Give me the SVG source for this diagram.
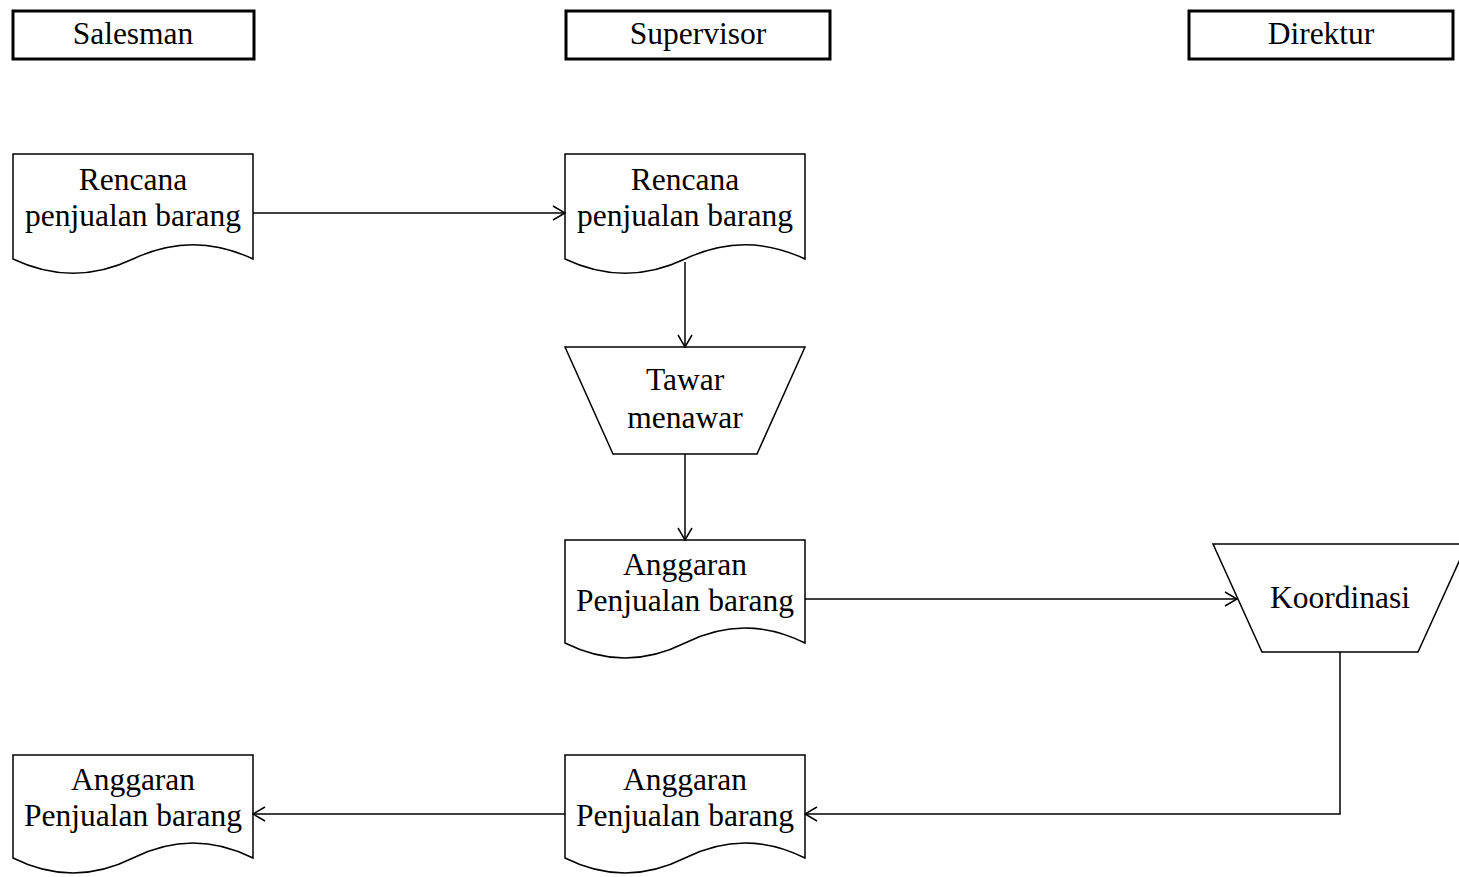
<svg xmlns="http://www.w3.org/2000/svg" width="1459" height="877" viewBox="0 0 1459 877">
<style>
.hdr{fill:#fff;stroke:#000;stroke-width:3}
.shp{fill:#fff;stroke:#000;stroke-width:1.5}
.t{font-family:"Liberation Serif","Times New Roman",serif;font-size:31.5px;fill:#000;text-anchor:middle}
.c{fill:none;stroke:#000;stroke-width:1.5}
</style>
<defs>
<marker id="ah" markerWidth="14" markerHeight="16" refX="13" refY="8" orient="auto" markerUnits="userSpaceOnUse">
<path d="M1,1 L13,8 L1,15" fill="none" stroke="#000" stroke-width="1.5"/>
</marker>
</defs>
<g id="h-salesman"><rect class="hdr" x="13" y="11" width="241" height="48"/><text class="t" x="133" y="44">Salesman</text></g>
<g id="h-supervisor"><rect class="hdr" x="566" y="11" width="264" height="48"/><text class="t" x="698" y="44">Supervisor</text></g>
<g id="h-direktur"><rect class="hdr" x="1189" y="11" width="264" height="48"/><text class="t" x="1321" y="44">Direktur</text></g>

<g id="n-rencana-s"><path class="shp" d="M13,154 H253 V259 C213,240 173,240 133,259 C93,278 53,278 13,259 Z"/><text class="t" x="133" y="190">Rencana</text><text class="t" x="133" y="226">penjualan barang</text></g>
<g id="n-rencana-sp"><path class="shp" d="M565,154 H805 V259 C765,240 725,240 685,259 C645,278 605,278 565,259 Z"/><text class="t" x="685" y="190">Rencana</text><text class="t" x="685" y="226">penjualan barang</text></g>
<g id="n-tawar"><path class="shp" d="M565,347 H805 L757,454 H613 Z"/><text class="t" x="685" y="390">Tawar</text><text class="t" x="685" y="428">menawar</text></g>
<g id="n-anggaran-sp1"><path class="shp" d="M565,540 H805 V643 C765,623 725,623 685,643 C645,663 605,663 565,643 Z"/><text class="t" x="685" y="575">Anggaran</text><text class="t" x="685" y="611">Penjualan barang</text></g>
<g id="n-koordinasi"><path class="shp" d="M1213,544 H1467 L1418,652 H1262 Z"/><text class="t" x="1340" y="608">Koordinasi</text></g>
<g id="n-anggaran-sp2"><path class="shp" d="M565,755 H805 V858 C765,838 725,838 685,858 C645,878 605,878 565,858 Z"/><text class="t" x="685" y="790">Anggaran</text><text class="t" x="685" y="826">Penjualan barang</text></g>
<g id="n-anggaran-s"><path class="shp" d="M13,755 H253 V858 C213,838 173,838 133,858 C93,878 53,878 13,858 Z"/><text class="t" x="133" y="790">Anggaran</text><text class="t" x="133" y="826">Penjualan barang</text></g>

<g id="connectors">
<path class="c" d="M253,213 H565" marker-end="url(#ah)"/>
<path class="c" d="M685,262 V347" marker-end="url(#ah)"/>
<path class="c" d="M685,454 V540" marker-end="url(#ah)"/>
<path class="c" d="M805,599 H1237" marker-end="url(#ah)"/>
<path class="c" d="M1340,652 V814 H805" marker-end="url(#ah)"/>
<path class="c" d="M565,814 H253" marker-end="url(#ah)"/>
</g>
</svg>
